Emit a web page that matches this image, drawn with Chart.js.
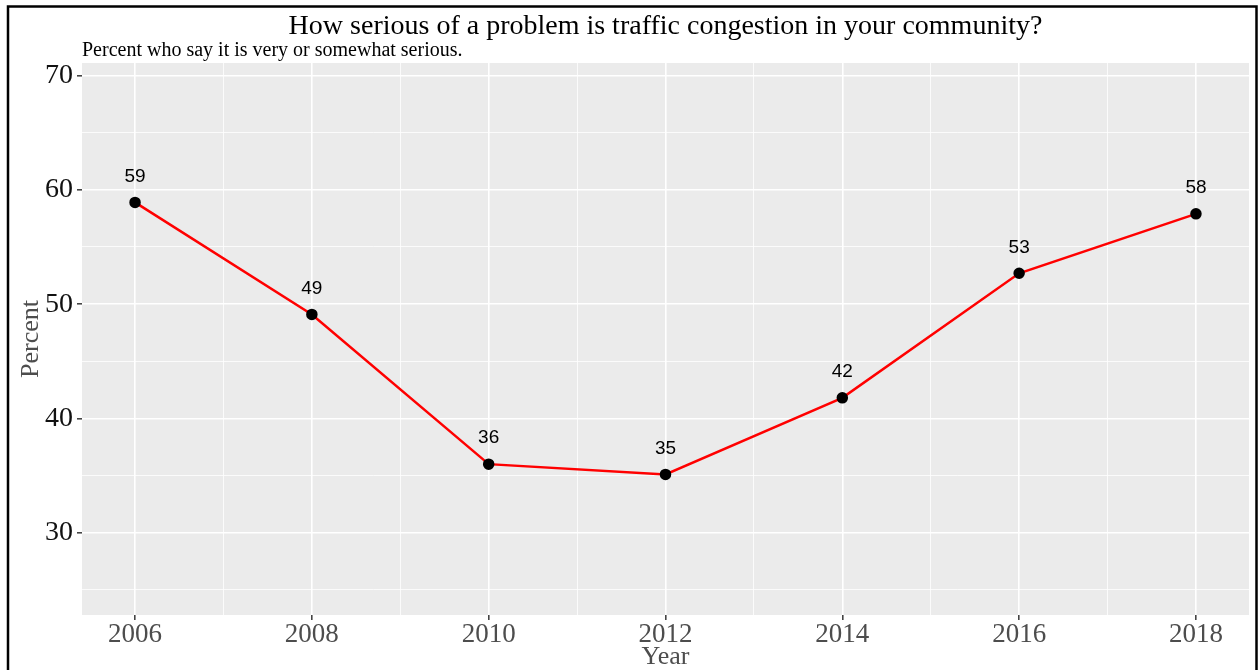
<!DOCTYPE html>
<html>
<head>
<meta charset="utf-8">
<script src="https://cdn.jsdelivr.net/npm/chart.js@4.4.1/dist/chart.umd.min.js"></script>
<style>
  html, body { margin: 0; padding: 0; background: #fff; }
  #wrap { width: 1259px; height: 670px; }
</style>
</head>
<body>
<div id="wrap"><canvas id="trafficChart" width="1259" height="670"></canvas></div>
<script>
// data
const years = [2006, 2008, 2010, 2012, 2014, 2016, 2018];
const percent = [58.9, 49.1, 36.0, 35.1, 41.8, 52.7, 57.9];
const yearTicks = [2006, 2008, 2010, 2012, 2014, 2016, 2018];
const percentTicks = [30, 40, 50, 60, 70];

const serif = "'Liberation Serif', 'Times New Roman', serif";

// grey panel + white page + black frame
const panelPlugin = {
    id: 'panel',
    beforeDraw(chart) {
        const c = chart.ctx, a = chart.chartArea;
        c.save();
        c.fillStyle = '#ffffff';
        c.fillRect(0, 0, chart.width, chart.height);
        c.fillStyle = '#ebebeb';
        c.fillRect(a.left, a.top, a.right - a.left, a.bottom - a.top);
        c.restore();
    },
    afterDraw(chart) {
        const c = chart.ctx;
        c.save();
        c.strokeStyle = '#000';
        c.lineWidth = 2.5;
        c.beginPath();
        c.moveTo(8, 700);
        c.lineTo(8, 6.5);
        c.lineTo(1256.5, 6.5);
        c.lineTo(1256.5, 700);
        c.stroke();
        c.restore();
    }
};

// value labels above the points
const valueLabels = {
    id: 'valueLabels',
    afterDatasetsDraw(chart) {
        const c = chart.ctx;
        const meta = chart.getDatasetMeta(0);
        c.save();
        c.font = "19px 'Liberation Sans', Arial, sans-serif";
        c.fillStyle = '#000';
        c.textAlign = 'center';
        c.textBaseline = 'middle';
        meta.data.forEach((pt, i) => {
            c.fillText(Math.round(percent[i]), pt.x, pt.y - 26);
        });
        c.restore();
    }
};

const ctx = document.getElementById('trafficChart').getContext('2d');
const trafficChart = new Chart(ctx, {
    type: 'line',
    data: {
        datasets: [{
            label: 'Percent',
            data: years.map((y, i) => ({ x: y, y: percent[i] })),
            borderColor: '#ff0000',
            borderWidth: 2.5,
            pointBackgroundColor: '#000',
            pointBorderColor: '#000',
            pointRadius: 4.5,
            tension: 0
        }]
    },
    options: {
        responsive: false,
        animation: false,
        layout: { padding: { left: 10, right: 10, top: 0, bottom: 0 } },
        plugins: {
            legend: { display: false },
            tooltip: { enabled: false },
            title: {
                display: true,
                text: 'How serious of a problem is traffic congestion in your community?',
                fullSize: false,
                color: '#000',
                font: { family: serif, size: 28, weight: 'normal', lineHeight: 1 },
                padding: { top: 13, bottom: 0 }
            },
            subtitle: {
                display: true,
                text: 'Percent who say it is very or somewhat serious.',
                fullSize: false,
                align: 'start',
                color: '#000',
                font: { family: serif, size: 20, weight: 'normal', lineHeight: 1 },
                padding: { top: 0, bottom: 2 }
            }
        },
        scales: {
            x: {
                type: 'linear',
                min: 2005.4,
                max: 2018.6,
                afterFit: s => { s.height = 55; },
                border: { display: false },
                grid: {
                    color: '#ffffff',
                    lineWidth: c => (c.tick && yearTicks.includes(c.tick.value)) ? 1.6 : 0.8,
                    tickColor: c => (c.tick && yearTicks.includes(c.tick.value)) ? '#444' : 'rgba(0,0,0,0)',
                    tickLength: 5
                },
                ticks: {
                    stepSize: 1,
                    includeBounds: false,
                    autoSkip: false,
                    maxRotation: 0,
                    padding: -1,
                    color: '#4d4d4d',
                    font: { family: serif, size: 27 },
                    callback: v => yearTicks.includes(v) ? String(v) : ''
                },
                title: {
                    display: true,
                    text: 'Year',
                    color: '#4d4d4d',
                    font: { family: serif, size: 26 },
                    padding: { top: 0, bottom: -3 }
                }
            },
            y: {
                min: 22.8,
                max: 71.1,
                afterFit: s => { s.width = 72; },
                border: { display: false },
                grid: {
                    color: '#ffffff',
                    lineWidth: c => (c.tick && percentTicks.includes(c.tick.value)) ? 1.6 : 0.8,
                    tickColor: c => (c.tick && percentTicks.includes(c.tick.value)) ? '#444' : 'rgba(0,0,0,0)',
                    tickLength: 5
                },
                ticks: {
                    stepSize: 5,
                    includeBounds: false,
                    autoSkip: false,
                    padding: 4,
                    color: '#111',
                    font: { family: serif, size: 28 },
                    callback: v => percentTicks.includes(v) ? String(v) : ''
                },
                title: {
                    display: true,
                    text: 'Percent',
                    color: '#4d4d4d',
                    font: { family: serif, size: 26 },
                    padding: { top: 6, bottom: 0 }
                }
            }
        }
    },
    plugins: [panelPlugin, valueLabels]
});
</script>
</body>
</html>
